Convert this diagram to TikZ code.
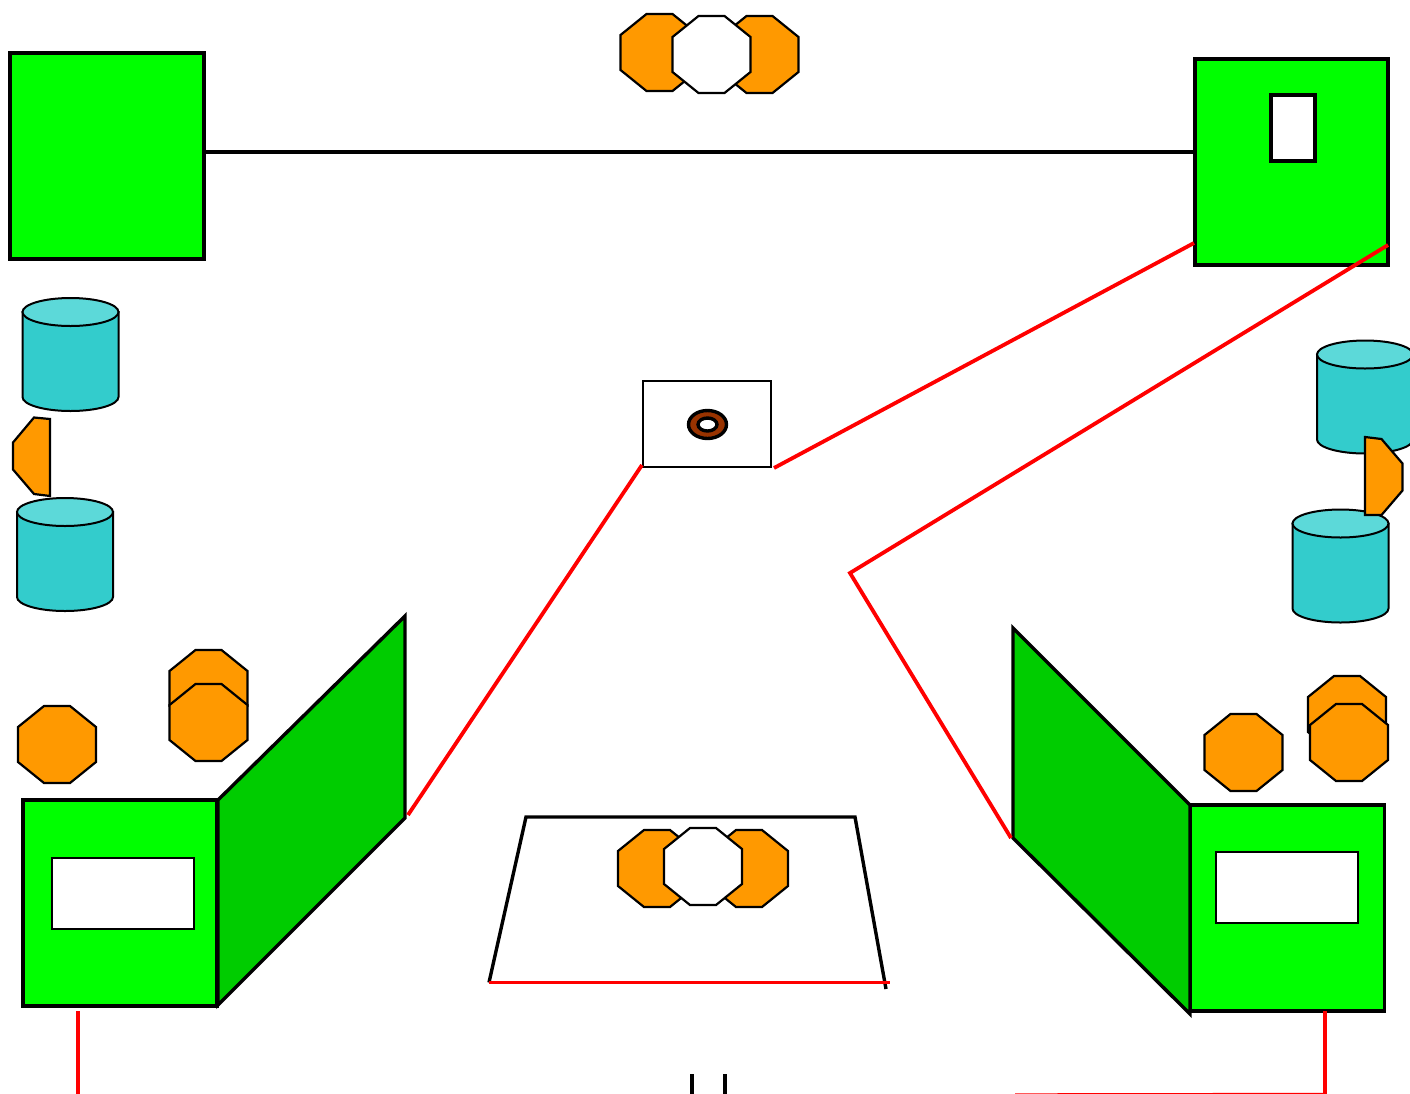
\documentclass[tikz,border=0pt]{standalone}
\usetikzlibrary{shapes.geometric}
\definecolor{panelgreen}{HTML}{00FF00}
\definecolor{sidegreen}{HTML}{00CC00}
\definecolor{octorange}{HTML}{FF9900}
\definecolor{drumbody}{HTML}{33CCCC}
\definecolor{drumtop}{HTML}{5CD9D9}
\definecolor{ringbrown}{HTML}{993300}
\tikzset{
  panel/.style={rectangle, draw, line width=3.4pt, fill=panelgreen, inner sep=0pt},
  slot/.style={rectangle, draw, line width=2.2pt, fill=white, inner sep=0pt},
  wing/.style={draw, line width=3.4pt, fill=sidegreen},
  wire/.style={draw=red, line width=3.8pt},
  octa/.style={draw, line width=2.2pt, fill=octorange},
  octw/.style={draw, line width=2.2pt, fill=white},
  octagon/.pic={\path[pic actions] (-13,-38.5) -- (13,-38.5) -- (39,-17.5) -- (39,17.5)
    -- (13,38.5) -- (-13,38.5) -- (-39,17.5) -- (-39,-17.5) -- cycle;},
  drum/.pic={
    \path[draw, line width=2pt, fill=drumbody] (-48,-42.5) -- (-48,42.5)
      arc[start angle=180, end angle=0, x radius=48, y radius=14] -- (48,-42.5) -- cycle;
    \path[draw, line width=2pt, fill=drumtop] (0,-42.5) ellipse [x radius=48, y radius=14];}
}
\begin{document}
\begin{tikzpicture}[x=1pt, y=-1pt]
  \useasboundingbox (0,0) rectangle (1410,1093);
  % drums
  \pic (drumA) at (70.5,354.5) {drum};
  \pic (drumB) at (65,554.5) {drum};
  \pic (drumC) at (1365,397) {drum};
  \pic (drumD) at (1340.5,566) {drum};
  % cut octagons beside the drums
  \path [octa] (50,419) -- (34,417.5) -- (13,442.5) -- (13,469.5) -- (34,494)
    -- (50,496) -- cycle;
  \path [octa] (1365,437) -- (1381.5,439) -- (1402.5,463.5) -- (1402.5,490.5)
    -- (1381.5,515) -- (1365,515) -- cycle;
  % panels
  \node [panel, minimum width=194pt, minimum height=206pt] (panelTL) at (107,156) {};
  \node [panel, minimum width=193pt, minimum height=206pt] (panelTR) at (1291.5,162) {};
  \node [slot, line width=3.4pt, minimum width=44pt, minimum height=66pt] (slotTR) at (1293,128) {};
  \path [wing] (218,800) -- (405,616) -- (405,818) -- (218,1005) -- cycle;
  \path [wing] (1013,628) -- (1190,805) -- (1190,1014) -- (1013,838) -- cycle;
  \node [panel, minimum width=194pt, minimum height=206pt] (panelBL) at (120,903) {};
  \node [panel, minimum width=194.5pt, minimum height=206pt] (panelBR) at (1287.5,908) {};
  \node [slot, minimum width=142pt, minimum height=71pt] (slotBL) at (122.8,893.5) {};
  \node [slot, minimum width=142pt, minimum height=71pt] (slotBR) at (1287,887.5) {};
  % octagons
  \pic [octa] (octTA) at (659.5,52.5) {octagon};
  \pic [octa] (octTB) at (759.5,54.5) {octagon};
  \pic [octw] (octTC) at (711.5,54.5) {octagon};
  \pic [octa] (octLA) at (57,744.5) {octagon};
  \pic [octa] (octLB) at (208.5,688.5) {octagon};
  \pic [octa] (octLC) at (208.5,722.5) {octagon};
  \pic [octa] (octRA) at (1243.5,752.5) {octagon};
  \pic [octa] (octRB) at (1347,714.5) {octagon};
  \pic [octa] (octRC) at (1349,742.5) {octagon};
  \pic [octa] (octBA) at (657,868.5) {octagon};
  \pic [octa] (octBB) at (749,868.5) {octagon};
  \pic [octw] (octBC) at (703,866.5) {octagon};
  % middle box and ring
  \node [rectangle, draw, line width=1.8pt, minimum width=128pt, minimum height=86pt, inner sep=0pt] (box) at (707.3,424.2) {};
  \node [ellipse, draw, line width=3.4pt, fill=ringbrown, minimum width=38pt, minimum height=28pt, inner sep=0pt] (ring) at (707.5,424.5) {};
  \node [ellipse, draw, line width=3.4pt, fill=white, minimum width=19pt, minimum height=13pt, inner sep=0pt] (hole) at (707.5,424.5) {};
  % wire ends
  \coordinate (wireA) at (1194,243);
  \coordinate (wireB) at (774,468);
  \coordinate (wireC) at (1388,245);
  \coordinate (wireD) at (850,573);
  \coordinate (wireE) at (1011,838);
  \coordinate (wireF) at (642,465);
  \coordinate (wireG) at (408,815);
  \coordinate (trapA) at (489,982.5);
  \coordinate (trapB) at (526,817);
  \coordinate (trapC) at (855,817);
  \coordinate (trapD) at (886,989);
  \coordinate (trapE) at (890,982.5);
  \coordinate (downA) at (78,1011);
  \coordinate (downB) at (78,1095);
  \coordinate (downC) at (1325,1011);
  \coordinate (downD) at (1325,1094.7);
  \coordinate (downE) at (1015,1095.2);
  \coordinate (tickA) at (692,1074);
  \coordinate (tickB) at (692,1095);
  \coordinate (tickC) at (725,1074);
  \coordinate (tickD) at (725,1095);
  % black lines
  \begin{scope}[line width=3.4pt]
    \draw (panelTL.east |- 0,152) -- (panelTR.west |- 0,152);
    \draw (trapA) -- (trapB) -- (trapC) -- (trapD);
    \draw (tickA) -- (tickB);
    \draw (tickC) -- (tickD);
  \end{scope}
  % red lines
  \begin{scope}[every path/.style={wire}]
    \draw (wireA) -- (wireB);
    \draw (wireC) -- (wireD) -- (wireE);
    \draw (wireF) -- (wireG);
    \draw (trapA) -- (trapE);
    \draw (downA) -- (downB);
    \draw (downC) -- (downD) -- (downE);
  \end{scope}
\end{tikzpicture}
\end{document}
